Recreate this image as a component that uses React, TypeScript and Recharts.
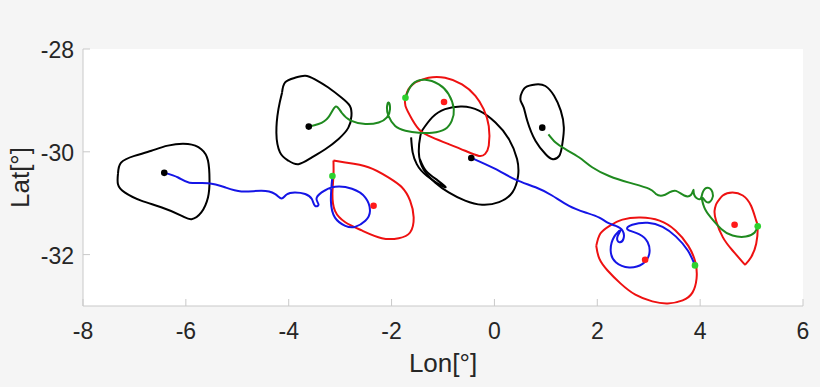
import React from 'react';
import { ComposedChart, Line, Scatter, XAxis, YAxis, CartesianGrid } from 'recharts';

type P = [number, number];

// x = Lon, y = Lat
const xTicks = [-8, -6, -4, -2, 0, 2, 4, 6];
const yTicks = [-32, -30, -28];

// Black eddy contours
const black1: P[] = [
    [-7.32, -30.43], [-7.26, -30.21], [-7.0, -30.08], [-6.67, -29.98], [-6.35, -29.88], [-5.96, -29.85],
    [-5.7, -29.95], [-5.57, -30.17], [-5.54, -30.56], [-5.57, -30.89], [-5.7, -31.18], [-5.89, -31.31],
    [-6.09, -31.24], [-6.48, -31.08], [-6.87, -30.95], [-7.19, -30.79], [-7.32, -30.63], [-7.32, -30.43],
];
const black2: P[] = [
    [-4.13, -28.85], [-4.07, -28.65], [-3.88, -28.56], [-3.68, -28.52], [-3.49, -28.59], [-3.23, -28.75],
    [-2.97, -28.95], [-2.81, -29.11], [-2.78, -29.3], [-2.84, -29.53], [-3.03, -29.75], [-3.29, -29.95],
    [-3.55, -30.11], [-3.81, -30.24], [-4.01, -30.17], [-4.17, -30.01], [-4.24, -29.63], [-4.2, -29.17],
    [-4.13, -28.85],
];
const black3: P[] = [
    [-1.41, -29.59], [-1.21, -29.33], [-0.96, -29.17], [-0.63, -29.12], [-0.3, -29.2], [0.02, -29.43],
    [0.28, -29.75], [0.44, -30.14], [0.46, -30.47], [0.35, -30.79], [0.09, -30.98], [-0.24, -31.03],
    [-0.57, -30.95], [-0.89, -30.79], [-1.15, -30.6], [-1.38, -30.34], [-1.47, -30.01], [-1.44, -29.69],
    [-1.41, -29.59],
];
const black3Tail: P[] = [
    [-1.62, -29.72], [-1.59, -30.01], [-1.51, -30.24], [-1.31, -30.47], [-0.96, -30.69],
    [-1.1, -30.56], [-1.33, -30.37], [-1.45, -30.14],
];
const black4: P[] = [
    [0.51, -28.91], [0.6, -28.75], [0.8, -28.69], [0.99, -28.72], [1.16, -28.91], [1.29, -29.2],
    [1.35, -29.53], [1.32, -29.85], [1.26, -30.08], [1.12, -30.14], [0.99, -30.04], [0.8, -29.79],
    [0.64, -29.4], [0.57, -29.14], [0.51, -29.01], [0.51, -28.91],
];

// Red eddy contours
const red1: P[] = [
    [-3.13, -30.17], [-2.9, -30.21], [-2.45, -30.3], [-2.06, -30.5], [-1.8, -30.69], [-1.64, -30.95],
    [-1.57, -31.28], [-1.64, -31.57], [-1.86, -31.68], [-2.19, -31.68], [-2.58, -31.53], [-2.9, -31.37],
    [-3.1, -31.15], [-3.15, -30.82], [-3.13, -30.47], [-3.13, -30.17],
];
const red2: P[] = [
    [-1.54, -28.65], [-1.28, -28.56], [-0.96, -28.56], [-0.63, -28.69], [-0.37, -28.91], [-0.21, -29.17],
    [-0.11, -29.5], [-0.11, -29.88], [-0.18, -30.04], [-0.3, -30.08], [-0.57, -29.98], [-0.89, -29.85],
    [-1.21, -29.72], [-1.44, -29.59], [-1.6, -29.37], [-1.73, -29.11], [-1.73, -28.95], [-1.67, -28.78],
    [-1.54, -28.65],
];
const red3: P[] = [
    [1.98, -31.83], [2.06, -31.59], [2.24, -31.44], [2.49, -31.32], [2.84, -31.28], [3.21, -31.34],
    [3.52, -31.53], [3.77, -31.83], [3.91, -32.16], [3.93, -32.47], [3.85, -32.74], [3.66, -32.89],
    [3.37, -32.95], [3.07, -32.91], [2.74, -32.78], [2.45, -32.56], [2.2, -32.31], [2.04, -32.08],
    [1.98, -31.83],
];
const red4: P[] = [
    [4.31, -31.02], [4.44, -30.85], [4.63, -30.79], [4.83, -30.85], [4.99, -31.05], [5.09, -31.34],
    [5.12, -31.47], [5.09, -31.79], [4.99, -32.05], [4.89, -32.18], [4.83, -32.15], [4.63, -31.92],
    [4.44, -31.66], [4.31, -31.34], [4.28, -31.15], [4.31, -31.02],
];

// Trajectories
const green1: P[] = [
    [-3.61, -29.51], [-3.42, -29.46], [-3.23, -29.33], [-3.09, -29.12], [-2.97, -29.24], [-2.78, -29.4],
    [-2.51, -29.46], [-2.25, -29.43], [-2.09, -29.33], [-2.03, -29.17], [-2.06, -29.04], [-2.09, -29.14],
    [-2.06, -29.3], [-1.93, -29.5], [-1.73, -29.59], [-1.47, -29.63], [-1.21, -29.63], [-0.96, -29.56],
    [-0.83, -29.4], [-0.79, -29.17], [-0.89, -28.88], [-1.08, -28.69], [-1.35, -28.6], [-1.6, -28.69],
    [-1.73, -28.95],
];
const green2: P[] = [
    [1.05, -29.66], [1.19, -29.82], [1.38, -29.95], [1.65, -30.11], [1.9, -30.3], [2.23, -30.47],
    [2.62, -30.6], [3.01, -30.72], [3.14, -30.82], [3.27, -30.85], [3.4, -30.79], [3.53, -30.76],
    [3.69, -30.85], [3.82, -30.84], [3.87, -30.74], [3.89, -30.85], [4.0, -30.92], [4.05, -30.79],
    [4.15, -30.7], [4.24, -30.79], [4.23, -30.92], [4.13, -30.98], [4.04, -30.89], [4.08, -31.08],
    [4.21, -31.28], [4.41, -31.5], [4.63, -31.63], [4.89, -31.65], [5.06, -31.57], [5.12, -31.45],
];
const blue1: P[] = [
    [-6.41, -30.41], [-6.15, -30.5], [-5.93, -30.6], [-5.57, -30.61], [-5.24, -30.69], [-4.92, -30.77],
    [-4.53, -30.76], [-4.27, -30.82], [-4.14, -30.91], [-4.04, -30.83], [-3.88, -30.79], [-3.68, -30.82],
    [-3.55, -30.92], [-3.49, -31.05], [-3.42, -31.03], [-3.46, -30.92], [-3.36, -30.79], [-3.1, -30.68],
    [-2.77, -30.72], [-2.51, -30.89], [-2.42, -31.15], [-2.51, -31.34], [-2.71, -31.46], [-2.9, -31.44],
    [-3.1, -31.28], [-3.18, -30.95], [-3.15, -30.47],
];
const blue2: P[] = [
    [-0.47, -30.11], [-0.18, -30.24], [0.09, -30.37], [0.41, -30.54], [0.8, -30.69], [1.12, -30.85],
    [1.45, -31.05], [1.77, -31.18], [2.04, -31.28], [2.2, -31.38], [2.36, -31.44], [2.49, -31.53],
    [2.51, -31.69], [2.43, -31.76], [2.39, -31.66], [2.45, -31.53], [2.33, -31.65], [2.26, -31.92],
    [2.36, -32.15], [2.62, -32.25], [2.88, -32.18], [3.01, -31.99], [2.98, -31.76], [2.81, -31.6],
    [2.59, -31.51], [2.68, -31.42], [2.98, -31.38], [3.27, -31.46], [3.53, -31.65], [3.76, -31.92],
    [3.9, -32.21],
];

// Centre / start / end markers
const blackDots: P[] = [[-6.42, -30.41], [-3.61, -29.51], [-0.45, -30.12], [0.93, -29.53]];
const redDots: P[] = [[-2.35, -31.05], [-0.98, -29.03], [2.93, -32.1], [4.67, -31.42]];
const greenDots: P[] = [[-3.15, -30.47], [-1.73, -28.95], [3.9, -32.21], [5.12, -31.45]];

const toPts = (a: P[]) => a.map(([x, y]) => ({ x, y }));

const FONT = '"Liberation Sans", Arial, Helvetica, sans-serif';
const TXT = '#262626';
const BOX = '#c9c9c9';
const TICK_LEN = 7;

const BottomTick = ({ x, y, payload }: any) => (
    <g>
        <line x1={x} y1={y} x2={x} y2={y - TICK_LEN} stroke={BOX} />
        <text x={x} y={y + 32.5} textAnchor="middle" fill={TXT} fontSize={23} fontFamily={FONT}>
            {payload.value}
        </text>
    </g>
);
const TopTick = ({ x, y }: any) => <line x1={x} y1={y} x2={x} y2={y + TICK_LEN} stroke={BOX} />;
const LeftTick = ({ x, y, payload }: any) => (
    <g>
        <line x1={x} y1={y} x2={x + TICK_LEN} y2={y} stroke={BOX} />
        <text x={x - 9} y={y + 9} textAnchor="end" fill={TXT} fontSize={23} fontFamily={FONT}>
            {payload.value}
        </text>
    </g>
);
const RightTick = ({ x, y }: any) => <line x1={x} y1={y} x2={x - TICK_LEN} y2={y} stroke={BOX} />;

const dotShape = (color: string) => (p: any) => <circle cx={p.cx} cy={p.cy} r={3.3} fill={color} />;

const tracks: { data: P[]; color: string }[] = [
    { data: black1, color: '#000000' },
    { data: black2, color: '#000000' },
    { data: black3, color: '#000000' },
    { data: black3Tail, color: '#000000' },
    { data: black4, color: '#000000' },
    { data: red1, color: '#ee1111' },
    { data: red2, color: '#ee1111' },
    { data: red3, color: '#ee1111' },
    { data: red4, color: '#ee1111' },
    { data: green1, color: '#1f8a1f' },
    { data: green2, color: '#1f8a1f' },
    { data: blue1, color: '#1515e6' },
    { data: blue2, color: '#1515e6' },
];

export default function App() {
    return (
        <div style={{ width: 820, height: 387, background: '#f5f5f5' }}>
            <style>{`body{margin:0;}`}</style>
            <ComposedChart width={820} height={387} margin={{ top: 49, right: 17, bottom: 15, left: 0 }}>
                <CartesianGrid horizontal={false} vertical={false} fill="#ffffff" />
                <XAxis
                    type="number"
                    dataKey="x"
                    domain={[-8, 6]}
                    ticks={xTicks}
                    interval={0}
                    allowDataOverflow
                    height={66}
                    tickSize={0}
                    tickMargin={0}
                    tickLine={false}
                    axisLine={{ stroke: BOX }}
                    tick={<BottomTick />}
                    label={(props: any) => {
                        const vb = props.viewBox;
                        return (
                            <text x={vb.x + vb.width / 2} y={vb.y + 66} textAnchor="middle" fill={TXT} fontSize={26} fontFamily={FONT}>
                                Lon[°]
                            </text>
                        );
                    }}
                />
                <XAxis
                    xAxisId="top"
                    orientation="top"
                    type="number"
                    dataKey="x"
                    domain={[-8, 6]}
                    ticks={xTicks}
                    interval={0}
                    allowDataOverflow
                    height={0}
                    tickSize={0}
                    tickMargin={0}
                    tickLine={false}
                    axisLine={{ stroke: BOX }}
                    tick={<TopTick />}
                />
                <YAxis
                    type="number"
                    dataKey="y"
                    domain={[-33, -28]}
                    ticks={yTicks}
                    interval={0}
                    allowDataOverflow
                    width={83}
                    tickSize={0}
                    tickMargin={0}
                    tickLine={false}
                    axisLine={{ stroke: BOX }}
                    tick={<LeftTick />}
                    label={(props: any) => {
                        const vb = props.viewBox;
                        const cx = vb.x + 29;
                        const cy = vb.y + vb.height / 2;
                        return (
                            <text x={cx} y={cy} transform={`rotate(-90 ${cx} ${cy})`} textAnchor="middle" fill={TXT} fontSize={26} fontFamily={FONT}>
                                Lat[°]
                            </text>
                        );
                    }}
                />
                <YAxis
                    yAxisId="right"
                    orientation="right"
                    type="number"
                    dataKey="y"
                    domain={[-33, -28]}
                    ticks={yTicks}
                    interval={0}
                    allowDataOverflow
                    width={0}
                    tickSize={0}
                    tickMargin={0}
                    tickLine={false}
                    axisLine={{ stroke: BOX }}
                    tick={<RightTick />}
                />
                {tracks.map((t, i) => (
                    <Line
                        key={i}
                        data={toPts(t.data)}
                        dataKey="y"
                        type="natural"
                        stroke={t.color}
                        strokeWidth={2}
                        strokeLinejoin="round"
                        dot={false}
                        activeDot={false}
                        isAnimationActive={false}
                    />
                ))}
                <Scatter xAxisId="top" yAxisId="right" data={toPts(blackDots)} dataKey="y" shape={dotShape('#000000')} isAnimationActive={false} />
                <Scatter xAxisId="top" yAxisId="right" data={toPts(redDots)} dataKey="y" shape={dotShape('#ff1a1a')} isAnimationActive={false} />
                <Scatter xAxisId="top" yAxisId="right" data={toPts(greenDots)} dataKey="y" shape={dotShape('#2ed12e')} isAnimationActive={false} />
            </ComposedChart>
        </div>
    );
}
